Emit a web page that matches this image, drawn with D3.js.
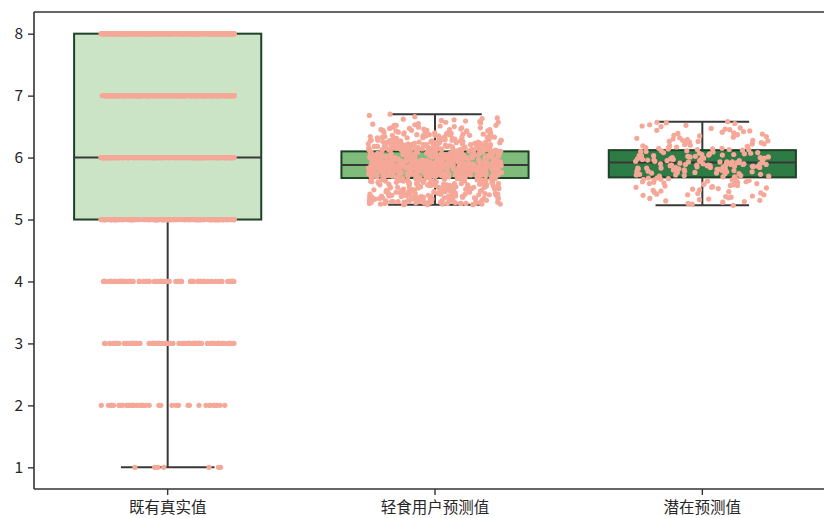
<!DOCTYPE html>
<html>
<head>
<meta charset="utf-8">
<script src="https://cdn.jsdelivr.net/npm/d3@7"></script>
<style>
  html, body { margin: 0; padding: 0; background: #fff; }
  svg { display: block; }
  text { font-family: "Noto Sans CJK SC", "Noto Sans", sans-serif; fill: #262626; }
</style>
</head>
<body>
<svg id="chart" width="824" height="518"></svg>
<script>
// Category names on the x axis
const categories = ["既有真实值", "轻食用户预测值", "潜在预测值"];
const boxFills = ["#cce4c6", "#7fbc7b", "#2e7c45"];

// Box statistics per category: [lower whisker, Q1, median, Q3, upper whisker]
const boxStats = [
  [1.00, 5.00, 6.00, 8.00, 8.00],
  [5.24, 5.67, 5.88, 6.10, 6.70],
  [5.23, 5.68, 5.92, 6.12, 6.58]
];

// Existing ratings: integer scores and how many records carry each score
const ratingLevels = [1, 2, 3, 4, 5, 6, 7, 8];
const ratingCounts = [7, 40, 70, 80, 200, 240, 200, 360];

// Predicted scores for light-meal users
const lightMealPred = [
  5.25,5.31,5.44,5.29,5.58,5.62,5.37,5.26,5.49,5.53,5.33,5.41,5.66,5.28,5.55,5.47,5.35,5.60,5.27,5.42,
  5.51,5.38,5.64,5.30,5.45,5.57,5.24,5.36,5.48,5.61,5.32,5.54,5.40,5.26,5.59,5.43,5.65,5.34,5.50,5.29,
  5.46,5.63,5.39,5.25,5.52,5.56,5.31,5.44,5.67,5.27,5.37,5.58,5.48,5.33,5.62,5.41,5.26,5.53,5.45,5.35,
  5.60,5.28,5.49,5.39,5.64,5.30,5.55,5.42,5.25,5.57,5.36,5.47,5.61,5.32,5.51,5.44,5.27,5.66,5.38,5.54,
  5.29,5.46,5.59,5.34,5.43,5.63,5.26,5.50,5.40,5.56,5.31,5.65,5.37,5.48,5.28,5.58,5.45,5.33,5.62,5.52,
  5.24,5.41,5.55,5.35,5.60,5.47,5.30,5.64,5.39,5.53,5.27,5.44,5.57,5.36,5.49,5.61,5.25,5.42,5.66,5.32,
  5.54,5.46,5.29,5.59,5.38,5.51,5.63,5.34,5.43,5.56,5.26,5.48,5.40,5.62,5.31,5.58,5.45,5.28,5.65,5.37,
  5.52,5.33,5.60,5.47,5.25,5.55,5.41,5.64,5.30,5.50,5.36,5.57,5.44,5.27,5.61,5.39,5.53,5.35,5.67,5.46,
  5.27,5.43,5.56,5.34,5.61,5.48,5.25,5.52,5.39,5.65,5.30,5.46,5.58,5.36,5.63,5.41,5.28,5.54,5.47,5.33,
  5.60,5.44,5.26,5.57,5.38,5.66,5.50,5.31,5.62,5.45,5.24,5.53,5.40,5.59,5.35,5.64,5.49,5.29,5.55,5.42,
  5.67,5.32,5.51,5.37,5.60,5.46,5.26,5.57,5.43,5.63,5.34,5.48,5.28,5.54,5.40,5.65,5.39,5.52,5.30,5.58,
  5.68,5.74,5.81,5.92,6.03,5.87,5.71,5.96,6.08,5.79,5.85,5.99,5.70,6.05,5.83,5.90,5.76,6.01,5.88,5.73,
  5.94,5.80,6.07,5.69,5.86,5.97,5.77,6.02,5.84,5.91,5.72,6.09,5.82,5.95,5.78,6.04,5.89,5.75,5.98,5.86,
  5.71,5.83,6.00,5.93,5.68,5.87,6.06,5.79,5.90,5.74,6.10,5.85,5.96,5.70,5.81,6.02,5.88,5.77,5.94,5.84,
  6.05,5.73,5.89,5.99,5.80,5.69,5.92,6.08,5.76,5.86,5.83,6.01,5.72,5.95,5.88,5.78,6.04,5.91,5.82,5.70,
  5.97,5.85,5.75,6.07,5.90,5.81,5.68,6.03,5.87,5.93,5.74,5.99,5.84,6.09,5.79,5.89,5.71,6.00,5.86,5.77,
  5.92,6.06,5.82,5.73,5.95,5.88,6.02,5.69,5.85,5.78,5.98,5.91,5.76,6.04,5.83,5.87,5.70,6.08,5.80,5.94,
  5.86,5.72,6.01,5.89,5.75,5.97,5.84,6.05,5.79,5.90,5.68,5.93,6.10,5.81,5.87,5.74,6.03,5.96,5.82,5.88,
  5.77,6.00,5.85,5.71,5.92,6.07,5.83,5.95,5.78,5.89,6.02,5.73,5.86,5.99,5.80,5.69,5.91,6.06,5.84,5.76,
  5.90,5.81,6.04,5.87,5.70,5.96,5.85,5.74,6.09,5.88,5.79,5.93,6.01,5.83,5.72,5.98,5.86,5.77,6.03,5.89,
  5.75,5.94,5.82,6.08,5.88,5.71,5.99,5.84,5.90,5.78,6.05,5.86,5.69,5.95,5.80,6.02,5.87,5.73,5.92,5.83,
  6.00,5.76,5.89,5.97,5.81,6.07,5.85,5.70,5.93,5.87,5.74,6.04,5.79,5.91,5.68,5.98,5.84,6.09,5.82,5.88,
  5.72,5.95,5.86,6.01,5.78,5.90,5.83,6.06,5.75,5.92,5.87,5.69,6.03,5.80,5.96,5.85,5.71,5.99,5.89,5.77,
  6.08,5.84,5.73,5.94,5.88,6.02,5.79,5.86,5.70,5.97,5.82,6.05,5.90,5.76,5.87,6.00,5.81,5.93,5.74,5.85,
  5.91,5.68,6.07,5.83,5.89,5.77,5.96,6.04,5.80,5.86,5.72,5.99,5.88,5.75,6.10,5.84,5.92,5.78,6.01,5.87,
  5.79,5.95,5.85,5.71,6.03,5.90,5.82,5.98,5.74,5.87,6.06,5.80,5.93,5.69,5.88,6.09,5.83,5.76,5.97,5.86,
  5.89,6.02,5.73,5.84,5.94,5.78,6.08,5.87,5.81,5.70,5.96,5.85,6.00,5.75,5.91,5.88,5.72,6.05,5.82,5.93,
  5.73,5.88,5.97,5.80,6.04,5.85,5.70,5.93,5.82,6.09,5.87,5.76,5.99,5.84,5.91,5.68,6.02,5.79,5.94,5.86,
  5.81,6.06,5.89,5.74,5.96,5.83,6.00,5.71,5.90,5.87,5.78,6.08,5.85,5.92,5.75,5.98,5.82,6.03,5.88,5.69,
  5.95,5.84,5.72,6.01,5.89,5.80,5.97,5.86,6.07,5.77,5.91,5.83,5.70,6.05,5.88,5.94,5.79,5.85,6.10,5.73,
  5.90,5.82,5.99,5.87,5.75,6.02,5.84,5.93,5.71,5.89,6.06,5.81,5.96,5.86,5.76,6.00,5.88,5.68,5.92,5.83,
  6.04,5.78,5.87,5.95,5.74,5.90,6.08,5.85,5.80,5.98,5.72,5.91,5.86,6.01,5.77,5.94,5.84,5.89,6.03,5.82,
  6.11,6.23,6.15,6.38,6.19,6.47,6.12,6.29,6.17,6.55,6.21,6.34,6.14,6.42,6.26,6.18,6.61,6.13,6.31,6.22,
  6.16,6.44,6.25,6.12,6.36,6.20,6.52,6.14,6.28,6.40,6.17,6.24,6.66,6.11,6.33,6.19,6.48,6.27,6.13,6.37,
  6.21,6.15,6.45,6.30,6.12,6.58,6.23,6.18,6.35,6.26,6.14,6.50,6.20,6.32,6.16,6.43,6.11,6.28,6.63,6.24,
  6.17,6.39,6.13,6.27,6.46,6.19,6.22,6.54,6.15,6.34,6.12,6.41,6.25,6.18,6.30,6.70,6.14,6.36,6.21,6.49,
  6.26,6.11,6.33,6.20,6.57,6.16,6.29,6.43,6.13,6.24,6.38,6.18,6.51,6.22,6.12,6.35,6.27,6.64,6.15,6.31,
  6.19,6.45,6.23,6.14,6.37,6.28,6.11,6.53,6.21,6.32,6.17,6.42,6.25,6.13,6.60,6.20,6.34,6.16,6.48,6.24,
  6.12,6.30,6.40,6.18,6.22,6.56,6.15,6.27,6.36,6.11,6.44,6.20,6.33,6.14,6.25,6.68,6.19,6.39,6.23,6.13,
  6.35,6.17,6.26,6.47,6.12,6.21,6.31,6.59,6.16,6.28,6.41,6.14,6.24,6.52,6.19,6.37,6.11,6.29,6.45,6.22,
  6.13,6.27,6.18,6.41,6.22,6.11,6.35,6.16,6.49,6.25,6.14,6.31,6.20,6.44,6.12,6.28,6.17,6.38,6.23,6.57,
  6.15,6.33,6.21,6.12,6.46,6.26,6.19,6.36,6.14,6.29,6.24,6.52,6.11,6.40,6.18,6.32,6.62,6.22,6.16,6.43
];

// Predicted scores for potential users
const potentialPred = [
  5.23,5.41,5.58,5.35,5.62,5.47,5.29,5.66,5.52,5.38,5.60,5.44,5.31,5.55,5.64,5.49,5.26,5.57,5.40,5.67,
  5.36,5.53,5.61,5.45,5.33,5.59,5.50,5.65,5.39,5.28,5.56,5.63,5.43,5.54,5.37,5.66,5.48,5.60,5.30,5.57,
  5.46,5.62,5.34,5.52,5.65,5.42,5.58,5.25,5.51,5.64,5.40,5.67,5.55,5.32,5.61,
  5.70,5.84,5.95,6.05,5.78,5.91,5.88,6.10,5.73,5.99,5.86,6.02,5.81,5.93,5.69,6.07,5.90,5.76,5.97,5.85,
  5.92,6.03,5.79,5.87,6.11,5.74,5.96,5.83,5.89,6.00,5.71,5.94,6.08,5.82,5.90,5.77,6.04,5.86,5.98,5.72,
  5.93,5.80,6.06,5.88,5.75,5.95,6.01,5.84,5.91,5.69,6.09,5.87,5.78,5.97,5.83,6.03,5.92,5.73,5.89,6.12,
  5.81,5.94,5.86,6.05,5.76,5.99,5.90,5.82,6.07,5.93,5.70,5.88,6.02,5.85,5.96,5.79,6.10,5.91,5.74,5.87,
  6.00,5.84,5.95,5.77,6.04,5.89,5.72,5.98,5.92,6.08,5.80,5.86,5.94,6.01,5.75,5.90,6.06,5.83,5.97,5.88,
  5.71,6.03,5.93,5.85,6.11,5.78,5.96,5.89,6.00,5.82,
  6.15,6.28,6.41,6.19,6.55,6.24,6.33,6.13,6.47,6.21,6.37,6.17,6.58,6.26,6.44,6.14,6.31,6.50,6.22,6.36,
  6.16,6.42,6.27,6.53,6.19,6.34,6.13,6.46,6.23,6.39,6.18,6.57,6.29,6.15,6.43,6.25,6.35,6.20,6.51,6.14,
  6.32,6.48,6.17,6.26,6.40,6.22,6.56,6.30,6.16,6.45,6.24,6.38,6.13,6.52,6.28
];

const yTicks = [1, 2, 3, 4, 5, 6, 7, 8];

const svg = d3.select("#chart");
const plot = { left: 34, right: 836, top: 12, bottom: 489 };

const x = d3.scaleBand().domain(categories).range([plot.left, plot.right]).paddingInner(0).paddingOuter(0);
const y = d3.scaleLinear().domain([0.65, 8.35]).range([plot.bottom, plot.top]);
const bw = x.bandwidth();

// Expand the rating counts into individual records
const existing = [];
ratingLevels.forEach((lv, k) => { for (let i = 0; i < ratingCounts[k]; i++) existing.push(lv); });
const groups = [existing, lightMealPred, potentialPred];

// Deterministic strip jitter in [-1, 1]
function jitter(i, g) {
  const s = Math.sin(i * 12.9898 + g * 78.233 + 1.7) * 43758.5453;
  return (s - Math.floor(s)) * 2 - 1;
}

const g = svg.append("g");
const edge = "#1f4227";
const lineCol = "#383838";

// Boxes with whiskers, caps and medians
categories.forEach((c, i) => {
  const [lo, q1, med, q3, hi] = boxStats[i];
  const cx = x(c) + bw / 2;
  const half = bw * 0.35;
  const capHalf = bw * 0.175;
  const bg = g.append("g");
  bg.append("line").attr("x1", cx).attr("x2", cx).attr("y1", y(q1)).attr("y2", y(lo))
    .attr("stroke", lineCol).attr("stroke-width", 2);
  bg.append("line").attr("x1", cx).attr("x2", cx).attr("y1", y(q3)).attr("y2", y(hi))
    .attr("stroke", lineCol).attr("stroke-width", 2);
  bg.append("line").attr("x1", cx - capHalf).attr("x2", cx + capHalf).attr("y1", y(lo)).attr("y2", y(lo))
    .attr("stroke", lineCol).attr("stroke-width", 2);
  bg.append("line").attr("x1", cx - capHalf).attr("x2", cx + capHalf).attr("y1", y(hi)).attr("y2", y(hi))
    .attr("stroke", lineCol).attr("stroke-width", 2);
  bg.append("rect").attr("x", cx - half).attr("y", y(q3)).attr("width", half * 2).attr("height", y(q1) - y(q3))
    .attr("fill", boxFills[i]).attr("stroke", edge).attr("stroke-width", 2);
  bg.append("line").attr("x1", cx - half).attr("x2", cx + half).attr("y1", y(med)).attr("y2", y(med))
    .attr("stroke", lineCol).attr("stroke-width", 2);
});

// Strip points drawn over the boxes
const pts = g.append("g");
groups.forEach((vals, gi) => {
  const cx = x(categories[gi]) + bw / 2;
  pts.selectAll(null).data(vals).enter().append("circle")
    .attr("cx", (d, i) => cx + jitter(i, gi) * bw * 0.25)
    .attr("cy", d => y(d))
    .attr("r", 2.6)
    .attr("fill", "#f5a898");
});

// Spines (the right one falls outside the canvas)
const spine = "#333";
svg.append("line").attr("x1", plot.left).attr("x2", plot.left).attr("y1", plot.top).attr("y2", plot.bottom)
  .attr("stroke", spine).attr("stroke-width", 1.6);
svg.append("line").attr("x1", plot.left).attr("x2", plot.right).attr("y1", plot.bottom).attr("y2", plot.bottom)
  .attr("stroke", spine).attr("stroke-width", 1.6);
svg.append("line").attr("x1", plot.left).attr("x2", plot.right).attr("y1", plot.top).attr("y2", plot.top)
  .attr("stroke", spine).attr("stroke-width", 1.6);

// Axes
const yAxis = d3.axisLeft(y).tickValues(yTicks).tickSize(6).tickPadding(5).tickFormat(d3.format("d"));
const ya = svg.append("g").attr("transform", `translate(${plot.left},0)`).call(yAxis);
ya.select(".domain").remove();
ya.selectAll(".tick line").attr("stroke", spine).attr("stroke-width", 1.4);
ya.selectAll(".tick text").attr("font-size", 15.5).attr("fill", "#262626")
  .attr("font-family", "'Noto Sans CJK SC', 'Noto Sans', sans-serif");

const xAxis = d3.axisBottom(x).tickSize(6).tickPadding(7);
const xa = svg.append("g").attr("transform", `translate(0,${plot.bottom})`).call(xAxis);
xa.select(".domain").remove();
xa.selectAll(".tick line").attr("stroke", spine).attr("stroke-width", 1.4);
xa.selectAll(".tick text").attr("font-size", 15.5).attr("fill", "#262626")
  .attr("font-family", "'Noto Sans CJK SC', 'Noto Sans', sans-serif");
</script>
</body>
</html>
